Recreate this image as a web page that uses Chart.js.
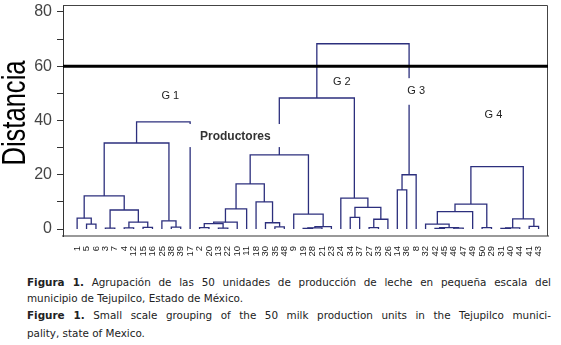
<!DOCTYPE html>
<html>
<head>
<meta charset="utf-8">
<script src="https://cdn.jsdelivr.net/npm/chart.js@4.4.0/dist/chart.umd.min.js"></script>
<style>
body { margin: 0; background: #fff; width: 561px; height: 345px; overflow: hidden; position: relative; }
#wrap { position: absolute; left: 0; top: 0; width: 561px; height: 262px; }
.cap { position: absolute; left: 27px; width: 524px; font-family: "DejaVu Sans", sans-serif; font-size: 10.4px; color: #222; white-space: nowrap; }
.j { text-align: justify; text-align-last: justify; }
</style>
</head>
<body>
<div id="wrap"><canvas id="dendro" width="561" height="262"></canvas></div>
<div class="cap j" style="top:276px"><b>Figura 1.</b> Agrupación de las 50 unidades de producción de leche en pequeña escala del</div>
<div class="cap" style="top:292px">municipio de Tejupilco, Estado de México.</div>
<div class="cap j" style="top:309px"><b>Figure 1.</b> Small scale grouping of the 50 milk production units in the Tejupilco munici-</div>
<div class="cap" style="top:327px">pality, state of Mexico.</div>
<script>
// leaf order along the bottom axis
const leafLabels = ['1','5','6','3','7','4','12','15','16','25','38','39','17',
    '2','20','13','22','10','11','18','30','35','48','9','19','28','21','23','24','34',
    '37','27','33','26','14','36','8',
    '32','42','45','46','47','49','50','29','31','40','44','41','43'];

// merges: [left node, right node, distance]; leaves are 0..49, merge k gets id 50+k
const merges = [
    // G 1
    [1, 2, 1.8], [0, 50, 4.0], [3, 4, 0.3], [5, 6, 0.4], [7, 8, 0.6],
    [53, 54, 2.5], [52, 55, 7.0], [51, 56, 12.2], [10, 11, 0.7], [9, 58, 3.0],
    [57, 59, 31.7], [60, 12, 39.5],
    // G 2
    [13, 14, 0.5], [15, 16, 0.3], [62, 63, 2.0], [64, 17, 2.5], [65, 18, 7.4],
    [21, 22, 0.8], [20, 67, 2.3], [19, 68, 10.0], [66, 69, 16.6],
    [24, 25, 0.2], [71, 26, 0.4], [72, 27, 0.9], [23, 73, 5.5], [70, 74, 27.3],
    [29, 30, 4.3], [31, 32, 0.5], [77, 33, 3.6], [76, 78, 8.0], [28, 79, 11.4],
    [75, 80, 48.3],
    // G 3
    [34, 35, 14.4], [82, 36, 20.0], [81, 83, 68.3],
    // G 4
    [38, 39, 0.2], [40, 41, 0.3], [85, 86, 0.5], [37, 87, 1.8], [88, 42, 6.4],
    [43, 44, 0.5], [89, 90, 9.2], [45, 46, 0.2], [92, 47, 0.4], [48, 49, 1.0],
    [93, 94, 3.7], [91, 95, 23.0]
];

const cutHeight = 60;
const groupNames = ['G 1', 'G 2', 'G 3', 'G 4'];
const axisTitle = 'Distancia';
const centreLabel = 'Productores';

const navy = '#2c2f7d';

// node positions (x = leaf slot, y = height)
const nodes = leafLabels.map((_, i) => ({ x: i, h: 0 }));
merges.forEach(([a, b, h]) => nodes.push({ x: (nodes[a].x + nodes[b].x) / 2, h }));

const linkSets = merges.map(([a, b, h]) => ({
    data: [
        { x: nodes[a].x, y: nodes[a].h },
        { x: nodes[a].x, y: h },
        { x: nodes[b].x, y: h },
        { x: nodes[b].x, y: nodes[b].h }
    ],
    borderColor: navy,
    borderWidth: 1.3,
    pointRadius: 0,
    fill: false
}));

// threshold line goes first so it is painted on top
const cutSet = {
    data: [{ x: -1.5, y: cutHeight }, { x: 50, y: cutHeight }],
    borderColor: '#000',
    borderWidth: 3,
    pointRadius: 0,
    fill: false
};

const textPlugin = {
    id: 'dendroText',
    beforeDatasetsDraw(chart) {
        const { ctx, chartArea: a } = chart;
        ctx.save();
        ctx.strokeStyle = '#444';
        ctx.lineWidth = 1;
        ctx.beginPath();
        ctx.moveTo(a.left, a.top + 0.5);
        ctx.lineTo(a.right - 0.5, a.top + 0.5);
        ctx.lineTo(a.right - 0.5, a.bottom);
        ctx.stroke();
        ctx.restore();
    },
    afterDatasetsDraw(chart) {
        const { ctx } = chart;
        const xs = chart.scales.x, ys = chart.scales.y;
        const px = v => xs.getPixelForValue(v);
        const py = v => ys.getPixelForValue(v);
        ctx.save();
        // white boxes behind the labels that sit on links
        ctx.fillStyle = '#fff';
        ctx.fillRect(px(11.7), py(38.7), px(21.9) - px(11.7), py(30.2) - py(38.7));
        ctx.fillRect(px(34.5), py(55.6), px(37.6) - px(34.5), py(45.8) - py(55.6));

        ctx.textAlign = 'center';
        ctx.textBaseline = 'middle';
        ctx.fillStyle = '#222';
        ctx.font = '11px "Liberation Sans", Arial, sans-serif';
        const spots = [[9.9, 49], [28.1, 54.2], [36.0, 50.9], [44.2, 42]];
        groupNames.forEach((g, i) => ctx.fillText(g, px(spots[i][0]), py(spots[i][1])));

        ctx.font = 'bold 12px "Liberation Sans", Arial, sans-serif';
        ctx.fillStyle = '#333';
        ctx.fillText(centreLabel, px(16.8), py(33.9));
        ctx.restore();
    },
    afterDraw(chart) {
        const { ctx } = chart;
        ctx.save();
        ctx.font = '34px "Liberation Sans", Arial, sans-serif';
        const w = ctx.measureText(axisTitle).width;
        ctx.translate(16, 113);
        ctx.rotate(-Math.PI / 2);
        ctx.scale(105 / w, 1);
        ctx.fillStyle = '#000';
        ctx.textAlign = 'center';
        ctx.textBaseline = 'middle';
        ctx.fillText(axisTitle, 0, 0);
        ctx.restore();
    }
};

new Chart(document.getElementById('dendro').getContext('2d'), {
    type: 'line',
    data: { datasets: [cutSet, ...linkSets] },
    options: {
        responsive: false,
        animation: false,
        layout: { padding: { top: 5, right: 13, left: 0, bottom: 0 } },
        plugins: { legend: { display: false }, tooltip: { enabled: false } },
        scales: {
            x: {
                type: 'linear',
                min: -1.5,
                max: 50,
                grid: { display: false },
                border: { display: true, color: '#999', width: 2 },
                ticks: {
                    stepSize: 1,
                    autoSkip: false,
                    includeBounds: false,
                    minRotation: 90,
                    maxRotation: 90,
                    padding: 2,
                    color: '#1a1a1a',
                    font: { size: 9.5, family: '"Liberation Sans", Arial, sans-serif' },
                    callback: v => (Number.isInteger(v) && v >= 0 && v < leafLabels.length) ? leafLabels[v] : ''
                },
                afterFit: s => { s.height = 26; s.paddingLeft = 0; s.paddingRight = 0; }
            },
            y: {
                min: -2.58,
                max: 82.58,
                grid: { drawOnChartArea: false, drawTicks: true, tickLength: 6, color: '#333' },
                border: { display: true, color: '#333', width: 1 },
                ticks: {
                    stepSize: 5,
                    includeBounds: false,
                    padding: 5,
                    color: '#444',
                    font: { size: 16, family: '"Liberation Sans", Arial, sans-serif' },
                    callback: v => (v % 20 === 0 ? v : '')
                },
                afterFit: s => { s.width = 63; s.paddingTop = 0; s.paddingBottom = 0; }
            }
        }
    },
    plugins: [textPlugin]
});
</script>
</body>
</html>
